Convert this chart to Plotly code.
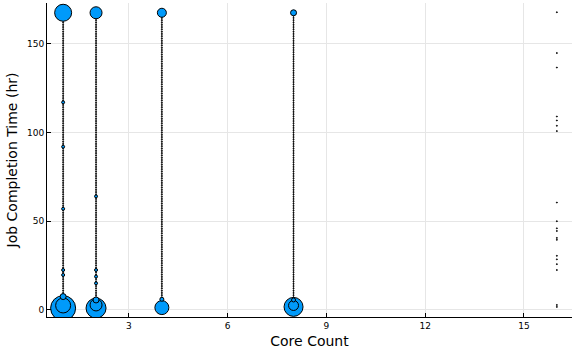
import plotly.graph_objects as go

# core counts that have a dense spread of completion times
dense_cores = [1, 2, 4, 8]
# completion-time values (hr) seen along each dense column
dense_hours = [
    1, 2, 3, 4, 5, 6, 7, 8, 9, 10, 11, 12, 13, 14, 15, 16, 17, 18, 19, 20,
    21, 22, 23, 24, 25, 26, 27, 28, 29, 30, 31, 32, 33, 34, 35, 36, 37, 38, 39, 40,
    41, 42, 43, 44, 45, 46, 47, 48, 49, 50, 51, 52, 53, 54, 55, 56, 57, 58, 59, 60,
    61, 62, 63, 64, 65, 66, 67, 68, 69, 70, 71, 72, 73, 74, 75, 76, 77, 78, 79, 80,
    81, 82, 83, 84, 85, 86, 87, 88, 89, 90, 91, 92, 93, 94, 95, 96, 97, 98, 99, 100,
    101, 102, 103, 104, 105, 106, 107, 108, 109, 110, 111, 112, 113, 114, 115, 116, 117, 118, 119, 120,
    121, 122, 123, 124, 125, 126, 127, 128, 129, 130, 131, 132, 133, 134, 135, 136, 137, 138, 139, 140,
    141, 142, 143, 144, 145, 146, 147, 148, 149, 150, 151, 152, 153, 154, 155, 156, 157, 158, 159, 160,
    161, 162, 163, 164, 165, 166, 167,
]

# 16-core jobs are sparse
sparse_hours_16 = [167.8, 144.8, 136.6, 109, 106.8, 103.8, 100.8, 60.5, 50, 46,
                   44.5, 40.6, 39.5, 30.5, 28.5, 25.8, 22.5, 2.8, 1.7]

# jobs with many repeats (bigger marker = more jobs)
big_cores = [1, 1, 1, 1, 1, 1, 1, 1, 1,
             2, 2, 2, 2, 2, 2, 2, 2,
             4, 4, 4,
             8, 8, 8, 8]
big_hours = [1, 2.5, 7.5, 19.7, 22.5, 57, 92, 117, 167.5,
             1, 2.8, 5.6, 15, 18.8, 22.5, 64, 167.5,
             1.3, 6, 167.5,
             1.7, 2.5, 5.6, 167.5]
big_sizes = [25, 15, 6, 3, 3, 3, 3, 3, 17,
             20, 12, 6, 3, 3, 3, 3, 12,
             14, 4, 9,
             19, 10, 4, 6]

fig = go.Figure()

xs, ys = [], []
for c in dense_cores:
    xs += [c] * len(dense_hours)
    ys += dense_hours
xs += [16] * len(sparse_hours_16)
ys += sparse_hours_16
fig.add_trace(go.Scatter(
    x=xs, y=ys, mode="markers",
    marker=dict(size=1, color="black", line=dict(color="black", width=1)),
    hoverinfo="skip"))

order = sorted(range(len(big_sizes)), key=lambda i: -big_sizes[i])
fig.add_trace(go.Scatter(
    x=[big_cores[i] for i in order], y=[big_hours[i] for i in order],
    mode="markers",
    marker=dict(size=[big_sizes[i] for i in order], color="#009AFA",
                line=dict(color="black", width=1), opacity=1)))

axis_font = dict(family="DejaVu Sans", size=9, color="black")
fig.update_layout(
    width=576, height=352,
    margin=dict(l=47, r=4, t=3, b=35),
    plot_bgcolor="white", paper_bgcolor="white",
    showlegend=False,
    font=dict(family="DejaVu Sans", color="black"),
)
fig.update_xaxes(
    range=[0.51, 16.46], tickvals=[3, 6, 9, 12, 15], tickfont=axis_font,
    showgrid=True, gridcolor="#e6e6e6", gridwidth=1, zeroline=False,
    showline=True, linecolor="black", linewidth=1,
    ticks="inside", ticklen=4, tickcolor="black", automargin=False,
    title=dict(text="Core Count", font=dict(size=14), standoff=6),
)
fig.update_yaxes(
    range=[-4, 173], tickvals=[0, 50, 100, 150], tickfont=axis_font,
    showgrid=True, gridcolor="#e6e6e6", gridwidth=1, zeroline=False,
    showline=True, linecolor="black", linewidth=1,
    ticks="inside", ticklen=4, tickcolor="black", automargin=False,
    title=dict(text="Job Completion Time (hr)", font=dict(size=14), standoff=6),
)

fig.write_html("out.html", config={"displayModeBar": False},
               post_script="document.body.style.margin='0';document.body.style.overflow='hidden';")
